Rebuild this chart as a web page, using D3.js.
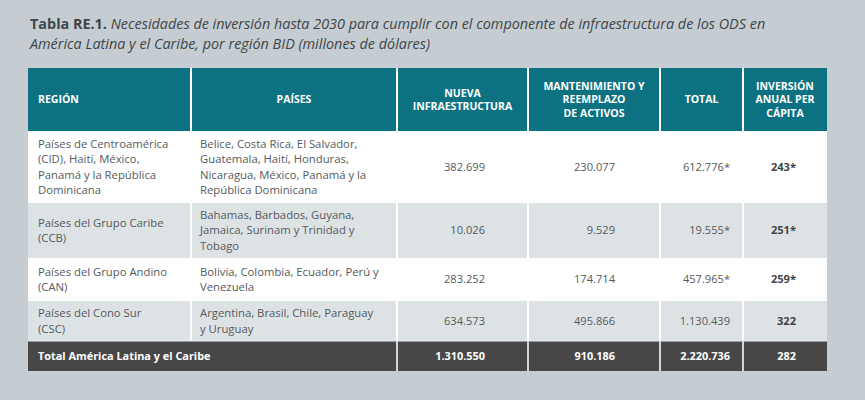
<!DOCTYPE html>
<html><head><meta charset="utf-8">
<script src="https://cdn.jsdelivr.net/npm/d3@7/dist/d3.min.js"></script>
<style>
html,body{margin:0;padding:0;background:#c5cdd2;}
svg{display:block;}
</style></head>
<body>
<script>
// ---------- DATA ----------
const titleBold = "Tabla RE.1.";
const titleLine1 = " Necesidades de inversión hasta 2030 para cumplir con el componente de infraestructura de los ODS en";
const titleLine2 = "América Latina y el Caribe, por región BID (millones de dólares)";

const headers = [
  ["REGIÓN"],
  ["PAÍSES"],
  ["NUEVA", "INFRAESTRUCTURA"],
  ["MANTENIMIENTO Y", "REEMPLAZO", "DE ACTIVOS"],
  ["TOTAL"],
  ["INVERSIÓN", "ANUAL PER", "CÁPITA"]
];
const regions = [
  ["Países de Centroamérica", "(CID), Haití, México,", "Panamá y la República", "Dominicana"],
  ["Países del Grupo Caribe", "(CCB)"],
  ["Países del Grupo Andino", "(CAN)"],
  ["Países del Cono Sur", "(CSC)"]
];
const countries = [
  ["Belice, Costa Rica, El Salvador,", "Guatemala, Haití, Honduras,", "Nicaragua, México, Panamá y la", "República Dominicana"],
  ["Bahamas, Barbados, Guyana,", "Jamaica, Surinam y Trinidad y", "Tobago"],
  ["Bolivia, Colombia, Ecuador, Perú y", "Venezuela"],
  ["Argentina, Brasil, Chile, Paraguay", "y Uruguay"]
];
const nuevaInfra = [382699, 10026, 283252, 634573];
const mantenimiento = [230077, 9529, 174714, 495866];
const totals = [612776, 19555, 457965, 1130439];
const totalsFlag = [true, true, true, false];
const perCapita = [243, 251, 259, 322];
const perCapitaFlag = [true, true, true, false];
const grandLabel = "Total América Latina y el Caribe";
const grandValues = [1310550, 910186, 2220736, 282];

// ---------- LAYOUT ----------
const W = 865, H = 400;
const colKeys = ["region", "paises", "nueva", "mant", "total", "pc"];
const colEdges = [28, 191, 397, 528, 660, 743, 827];
const rowKeys = ["head", "r0", "r1", "r2", "r3", "grand"];
const rowEdges = [68, 131, 203, 258, 301, 341, 371];

const xL = d3.scaleOrdinal().domain(colKeys).range(colEdges.slice(0, -1));
const xR = d3.scaleOrdinal().domain(colKeys).range(colEdges.slice(1));
const yT = d3.scaleOrdinal().domain(rowKeys).range(rowEdges.slice(0, -1));
const yB = d3.scaleOrdinal().domain(rowKeys).range(rowEdges.slice(1));

const loc = d3.formatLocale({decimal: ",", thousands: ".", grouping: [3], currency: ["$", ""]});
const fmt = loc.format(",d");

const svg = d3.select("body").append("svg").attr("width", W).attr("height", H);
svg.append("rect").attr("width", W).attr("height", H).attr("fill", "#c5cdd2");

// Title
const FONT = "'Open Sans', sans-serif";
const tcol = "#3f4548";
const t1 = svg.append("text").attr("x", 30).attr("y", 29.2).attr("font-family", FONT).attr("font-size", 14.4).attr("fill", tcol);
t1.append("tspan").attr("font-weight", 700).text(titleBold);
t1.append("tspan").attr("font-style", "italic").text(titleLine1);
svg.append("text").attr("x", 30).attr("y", 49).attr("font-family", FONT).attr("font-size", 14.4)
  .attr("fill", tcol).attr("font-style", "italic").text(titleLine2);

// Row backgrounds
const rowFill = {head: "#0c7282", r0: "#ffffff", r1: "#dde2e5", r2: "#ffffff", r3: "#dde2e5", grand: "#474747"};
const cells = [];
rowKeys.forEach(r => colKeys.forEach(c => cells.push({r, c})));
svg.append("g").selectAll("rect").data(cells).join("rect")
  .attr("x", d => xL(d.c)).attr("y", d => yT(d.r))
  .attr("width", d => xR(d.c) - xL(d.c)).attr("height", d => yB(d.r) - yT(d.r))
  .attr("fill", d => rowFill[d.r]);

// vertical separators
const sepCols = colKeys.slice(1);
rowKeys.forEach(r => {
  svg.append("g").selectAll("line").data(sepCols.filter(c => !(r === "grand" && c === "paises"))).join("line")
    .attr("x1", c => xL(c)).attr("x2", c => xL(c))
    .attr("y1", yT(r)).attr("y2", yB(r))
    .attr("stroke", r === "grand" ? "#cfd4d7" : "#ffffff").attr("stroke-width", 2);
});
// horizontal separator between r3 and grand
svg.append("line").attr("x1", colEdges[0]).attr("x2", colEdges[6])
  .attr("y1", yT("grand")).attr("y2", yT("grand")).attr("stroke", "#e8ebed").attr("stroke-width", 1);

// Header text
const hLH = 13.4;
const hg = svg.append("g").attr("font-family", FONT).attr("font-weight", 700).attr("font-size", 10.5).attr("fill", "#ffffff");
headers.forEach((lines, i) => {
  const c = colKeys[i];
  const cy = (yT("head") + yB("head")) / 2;
  const left = i === 0;
  const tx = hg.append("text")
    .attr("x", left ? xL(c) + 10 : (xL(c) + xR(c)) / 2)
    .attr("text-anchor", left ? "start" : "middle");
  lines.forEach((ln, k) => {
    tx.append("tspan").attr("x", left ? xL(c) + 10 : (xL(c) + xR(c)) / 2)
      .attr("y", cy + (k - (lines.length - 1) / 2) * hLH + 3.7).text(ln);
  });
});

// Body text
const bLH = 15.2;
const bodyColor = "#555a5d";
const bg = svg.append("g").attr("font-family", FONT).attr("font-size", 11.3).attr("fill", bodyColor);
function multiline(lines, x, cy) {
  const t = bg.append("text");
  lines.forEach((ln, k) => {
    t.append("tspan").attr("x", x).attr("y", cy + (k - (lines.length - 1) / 2) * bLH + 3.9).text(ln);
  });
}
const dataRows = ["r0", "r1", "r2", "r3"];
dataRows.forEach((r, i) => {
  const cy = (yT(r) + yB(r)) / 2;
  multiline(regions[i], xL("region") + 10, cy);
  multiline(countries[i], xL("paises") + 9, cy);
  const ng = bg.append("g").attr("font-size", 11.1);
  ng.append("text").attr("x", 485).attr("y", cy + 3.9).attr("text-anchor", "end").text(fmt(nuevaInfra[i]));
  ng.append("text").attr("x", 615).attr("y", cy + 3.9).attr("text-anchor", "end").text(fmt(mantenimiento[i]));
  ng.append("text").attr("x", xR("total") - 13).attr("y", cy + 3.9).attr("text-anchor", "end").text(fmt(totals[i]) + (totalsFlag[i] ? "*" : ""));
  ng.append("text").attr("x", xR("pc") - 31).attr("y", cy + 3.9).attr("text-anchor", "end")
    .attr("font-weight", 700).attr("fill", "#3f4548").text(fmt(perCapita[i]) + (perCapitaFlag[i] ? "*" : ""));
});

// Grand total row
{
  const cy = (yT("grand") + yB("grand")) / 2;
  const gg = svg.append("g").attr("font-family", FONT).attr("font-weight", 700).attr("font-size", 10.9).attr("fill", "#ffffff");
  gg.append("text").attr("x", xL("region") + 10).attr("y", cy + 3.8).text(grandLabel);
  const ax = [485, 615, xR("total") - 13, xR("pc") - 31];
  grandValues.forEach((v, k) => {
    gg.append("text").attr("x", ax[k]).attr("y", cy + 3.8).attr("text-anchor", "end").text(fmt(v));
  });
}
</script>
</body></html>
